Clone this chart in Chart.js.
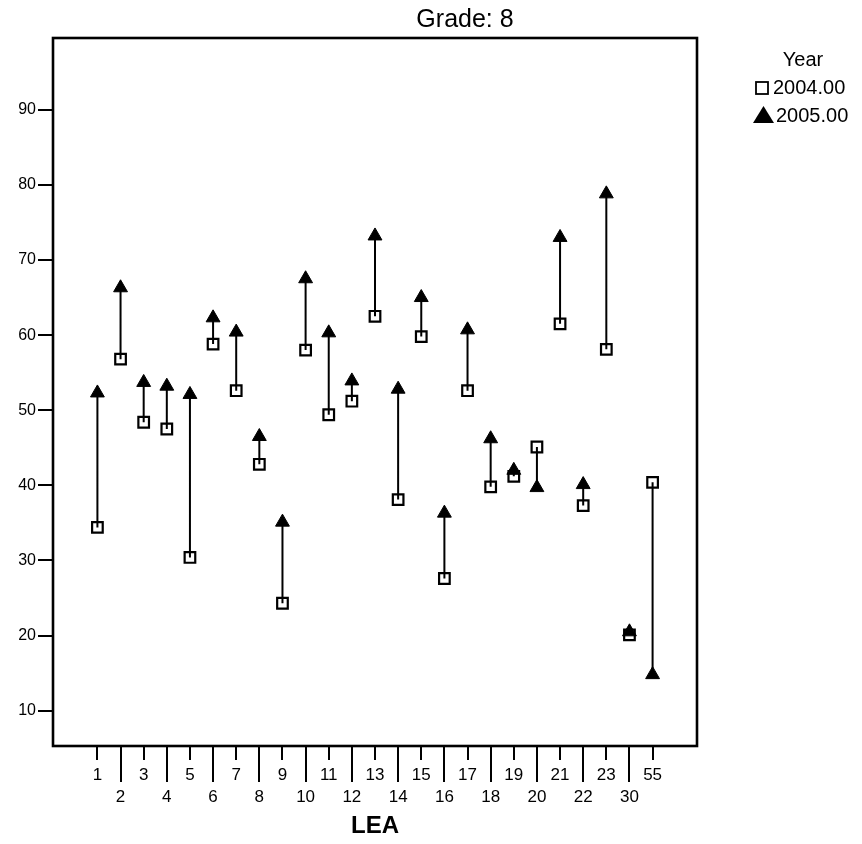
<!DOCTYPE html>
<html>
<head>
<meta charset="utf-8">
<script src="https://cdn.jsdelivr.net/npm/chart.js@4/dist/chart.umd.min.js"></script>
<style>
  html, body { margin: 0; padding: 0; background: #ffffff; }
  #wrap { width: 862px; height: 844px; position: relative; }
</style>
</head>
<body>
<div id="wrap"><canvas id="c" width="862" height="844"></canvas></div>
<script>
// ---- data ----
const leaLabels = ['1','2','3','4','5','6','7','8','9','10','11','12','13','14','15','16','17','18','19','20','21','22','23','30','55'];
const score2004 = [34.4, 56.8, 48.4, 47.5, 30.4, 58.8, 52.6, 42.8, 24.3, 58.0, 49.4, 51.2, 62.5, 38.1, 59.8, 27.6, 52.6, 39.8, 41.2, 45.1, 61.5, 37.3, 58.1, 20.1, 40.4];
const score2005 = [52.3, 66.3, 53.7, 53.2, 52.1, 62.3, 60.4, 46.5, 35.1, 67.5, 60.3, 53.9, 73.2, 52.8, 65.0, 36.3, 60.7, 46.2, 42.0, 39.7, 73.0, 40.1, 78.8, 20.5, 14.8];
const yTicks = [10, 20, 30, 40, 50, 60, 70, 80, 90];
const seriesNames = ['2004.00', '2005.00'];
const legendTitle = 'Year';
const chartTitle = 'Grade: 8';
const xTitle = 'LEA';

const FONT = "'Liberation Sans', Arial, Helvetica, sans-serif";

const squares = score2004.map((v, i) => ({x: i, y: v}));
const triangles = score2005.map((v, i) => ({x: i, y: v}));
const connectors = [];
score2004.forEach((v, i) => {
  connectors.push({x: i, y: v});
  connectors.push({x: i, y: score2005[i]});
  connectors.push({x: i, y: null});
});

const framePlugin = {
  id: 'frame',
  afterDraw(chart) {
    const ctx = chart.ctx;
    const a = chart.chartArea;
    const xs = chart.scales.x;
    ctx.save();
    ctx.strokeStyle = '#000';
    // box
    ctx.lineWidth = 2.6;
    ctx.strokeRect(a.left, a.top, a.right - a.left, a.bottom - a.top);
    // x tick marks (alternating lengths)
    ctx.lineWidth = 2;
    xs.ticks.forEach((t, i) => {
      const px = Math.round(xs.getPixelForValue(t.value));
      ctx.beginPath();
      ctx.moveTo(px, a.bottom);
      ctx.lineTo(px, a.bottom + (i % 2 ? 36 : 14));
      ctx.stroke();
    });
    // title
    ctx.fillStyle = '#000';
    ctx.font = "25px " + FONT;
    ctx.textAlign = 'center';
    ctx.textBaseline = 'middle';
    ctx.fillText(chartTitle, 465, 20);
    // legend
    ctx.font = "20px " + FONT;
    ctx.textAlign = 'center';
    ctx.fillText(legendTitle, 803, 60);
    ctx.textAlign = 'left';
    const ds = chart.data.datasets;
    // square
    const sq = ds[0];
    ctx.lineWidth = 1.8;
    ctx.strokeStyle = sq.borderColor;
    ctx.fillStyle = sq.backgroundColor;
    ctx.fillRect(756, 82, 12, 12);
    ctx.strokeRect(756, 82, 12, 12);
    ctx.fillStyle = '#000';
    ctx.fillText(seriesNames[0], 773, 88);
    // triangle
    const tr = ds[2];
    ctx.fillStyle = tr.backgroundColor;
    ctx.beginPath();
    ctx.moveTo(763.5, 106);
    ctx.lineTo(774, 123);
    ctx.lineTo(753, 123);
    ctx.closePath();
    ctx.fill();
    ctx.fillStyle = '#000';
    ctx.fillText(seriesNames[1], 776, 116);
    ctx.restore();
  }
};

new Chart(document.getElementById('c'), {
  type: 'scatter',
  data: {
    datasets: [
      {
        label: seriesNames[0],
        data: squares,
        pointStyle: 'rect',
        pointRadius: 7.5,
        pointHoverRadius: 7.5,
        borderWidth: 2.2,
        borderColor: '#000',
        backgroundColor: '#fff',
        order: 3
      },
      {
        type: 'line',
        label: 'link',
        data: connectors,
        borderColor: '#000',
        borderWidth: 2,
        pointRadius: 0,
        spanGaps: false,
        fill: false,
        order: 2
      },
      {
        label: seriesNames[1],
        data: triangles,
        pointStyle: 'triangle',
        pointRadius: 8,
        pointHoverRadius: 8,
        borderWidth: 1,
        borderColor: '#000',
        backgroundColor: '#000',
        order: 1
      }
    ]
  },
  options: {
    responsive: false,
    animation: false,
    events: [],
    layout: { padding: { top: 38, right: 165, bottom: 0, left: 0 } },
    plugins: { legend: { display: false }, tooltip: { enabled: false }, title: { display: false } },
    scales: {
      x: {
        type: 'linear',
        min: -1.92,
        max: 25.92,
        afterBuildTicks: s => { s.ticks = leaLabels.map((_, i) => ({value: i})); },
        afterFit: s => { s.height = 98; },
        border: { display: false },
        grid: { drawOnChartArea: false, drawTicks: true, tickLength: 14, tickColor: 'rgba(0,0,0,0)' },
        ticks: {
          autoSkip: false, maxRotation: 0, minRotation: 0, padding: 4, color: '#000',
          font: { family: FONT, size: 17, lineHeight: 1.3 },
          callback: (v, i) => (i % 2 ? ['', leaLabels[i]] : leaLabels[i])
        },
        title: { display: true, text: xTitle, color: '#000', font: { family: FONT, size: 24, weight: 'bold' }, padding: { top: 0, bottom: 3 } }
      },
      y: {
        type: 'linear',
        min: 5.3,
        max: 99.55,
        afterBuildTicks: s => { s.ticks = yTicks.map(v => ({value: v})); },
        afterFit: s => { s.width = 53; },
        border: { display: false },
        grid: { drawOnChartArea: false, drawTicks: true, tickLength: 15, tickColor: '#000', lineWidth: 2 },
        ticks: { padding: 2, color: '#000', font: { family: FONT, size: 16 } }
      }
    }
  },
  plugins: [framePlugin]
});
</script>
</body>
</html>
